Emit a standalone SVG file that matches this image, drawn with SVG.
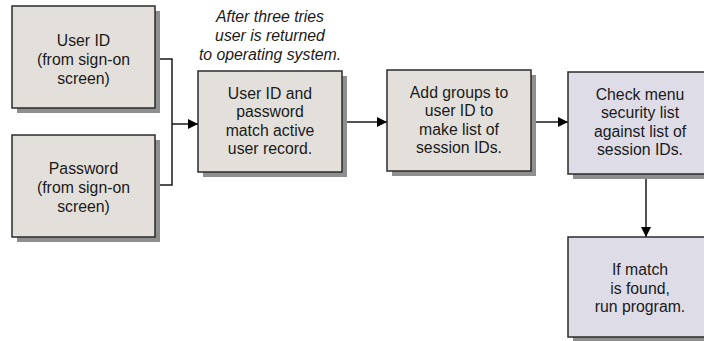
<svg xmlns="http://www.w3.org/2000/svg" width="704" height="341" viewBox="0 0 704 341">
<style>
.sh{fill:#8f8f8f}
.bx{fill:#e3e0db;stroke:#2b2b2b;stroke-width:1.5}
.bp{fill:#dedce7;stroke:#2b2b2b;stroke-width:1.5}
.t{font-family:"Liberation Sans",Arial,sans-serif;font-size:15.8px;fill:#1a1a1a;text-anchor:middle}
.it{font-style:italic}
.ln{fill:none;stroke:#1a1a1a;stroke-width:1.5}
</style>
<defs>
<marker id="ah" viewBox="0 0 10 10" refX="10" refY="5" markerWidth="10" markerHeight="10" markerUnits="userSpaceOnUse" orient="auto">
<path d="M0,0 L10,5 L0,10 Z" fill="#000"/>
</marker>
</defs>
<rect width="704" height="341" fill="#fff"/>
<g id="connectors">
<path class="ln" d="M155,59 H172 V185 H155"/>
<path class="ln" d="M172,124 H198" marker-end="url(#ah)"/>
<path class="ln" d="M342,122 H387" marker-end="url(#ah)"/>
<path class="ln" d="M531,122 H568" marker-end="url(#ah)"/>
<path class="ln" d="M646,174 V237" marker-end="url(#ah)"/>
</g>
<g id="note">
<text class="t it" x="270" y="22">After three tries</text>
<text class="t it" x="270" y="41">user is returned</text>
<text class="t it" x="270" y="60">to operating system.</text>
</g>
<g id="userid">
<rect class="sh" x="17" y="11" width="143" height="102"/>
<rect class="bx" x="12" y="6" width="143" height="102"/>
<text class="t" x="83.5" y="46">User ID</text>
<text class="t" x="83.5" y="65">(from sign-on</text>
<text class="t" x="83.5" y="84">screen)</text>
</g>
<g id="password">
<rect class="sh" x="17" y="140" width="143" height="102"/>
<rect class="bx" x="12" y="135" width="143" height="102"/>
<text class="t" x="83.5" y="174">Password</text>
<text class="t" x="83.5" y="193">(from sign-on</text>
<text class="t" x="83.5" y="212">screen)</text>
</g>
<g id="match">
<rect class="sh" x="203" y="76" width="144" height="101"/>
<rect class="bx" x="198" y="71" width="144" height="101"/>
<text class="t" x="270" y="98.5">User ID and</text>
<text class="t" x="270" y="117">password</text>
<text class="t" x="270" y="135.5">match active</text>
<text class="t" x="270" y="154">user record.</text>
</g>
<g id="groups">
<rect class="sh" x="392" y="75" width="144" height="101"/>
<rect class="bx" x="387" y="70" width="144" height="101"/>
<text class="t" x="459" y="97.5">Add groups to</text>
<text class="t" x="459" y="116">user ID to</text>
<text class="t" x="459" y="134.5">make list of</text>
<text class="t" x="459" y="153">session IDs.</text>
</g>
<g id="check">
<rect class="sh" x="573" y="77" width="144" height="102"/>
<rect class="bp" x="568" y="72" width="144" height="102"/>
<text class="t" x="640" y="99.5">Check menu</text>
<text class="t" x="640" y="118">security list</text>
<text class="t" x="640" y="136.5">against list of</text>
<text class="t" x="640" y="155">session IDs.</text>
</g>
<g id="run">
<rect class="sh" x="573" y="242" width="144" height="100"/>
<rect class="bp" x="568" y="237" width="144" height="100"/>
<text class="t" x="640" y="275">If match</text>
<text class="t" x="640" y="293.5">is found,</text>
<text class="t" x="640" y="312">run program.</text>
</g>
</svg>
